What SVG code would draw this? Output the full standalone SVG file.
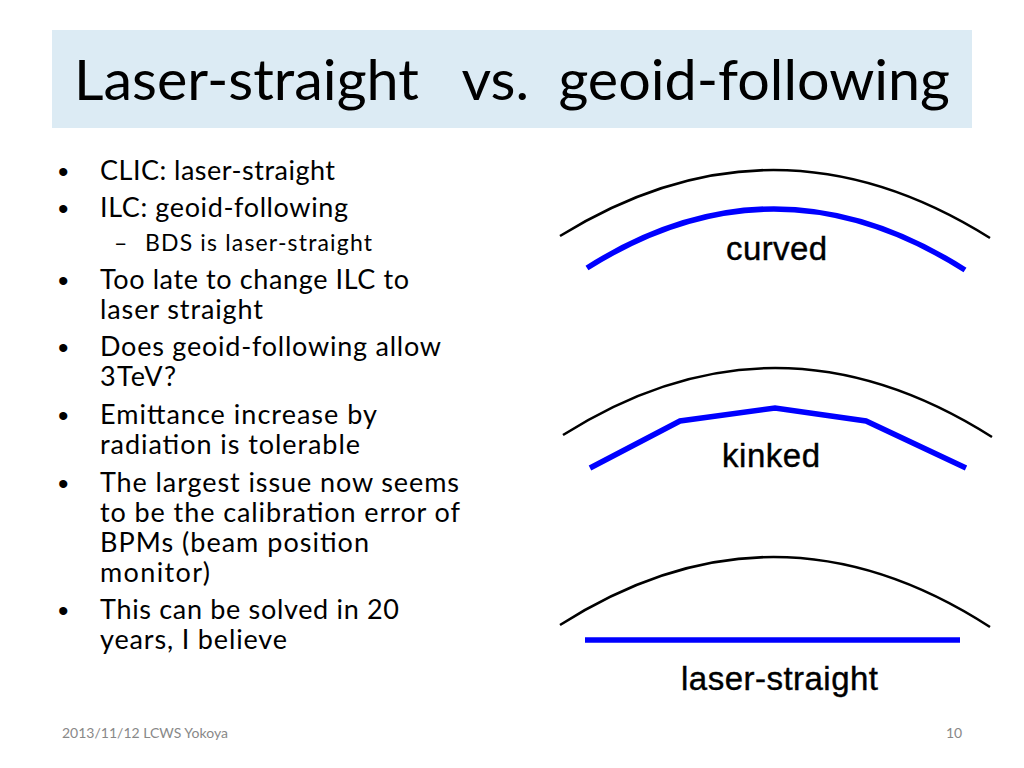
<svg xmlns="http://www.w3.org/2000/svg" width="1024" height="768" viewBox="0 0 1024 768">
<style>
.b{font-family:Lato,"Liberation Sans",sans-serif;font-size:27px;fill:#000}
.s{font-family:Lato,"Liberation Sans",sans-serif;font-size:23px;fill:#000}
.d{font-family:"Liberation Sans",sans-serif;font-size:30px;fill:#000}
.arc{fill:none;stroke:#000;stroke-width:2.5}
.blue{fill:none;stroke:#0000ff;stroke-width:5.5}
.lab{font-family:"Liberation Sans",Arial,sans-serif;font-size:33px;fill:#000;stroke:#000;stroke-width:0.4}
.f{font-family:Lato,"Liberation Sans",sans-serif;font-size:14px;fill:#888}
</style>
<rect width="1024" height="768" fill="#fff"/>
<rect x="52" y="30" width="920" height="98" fill="#dcebf4"/>
<text x="74" y="100" font-family="Lato, Liberation Sans, sans-serif" font-size="56" textLength="876" lengthAdjust="spacingAndGlyphs" xml:space="preserve">Laser-straight   vs.  geoid-following</text>
<g class="d">
<text x="58" y="182">•</text><text x="58" y="219">•</text><text x="58" y="291">•</text><text x="58" y="358">•</text><text x="58" y="426">•</text><text x="58" y="494">•</text><text x="58" y="621">•</text>
</g>
<g class="b">
<text x="100" y="180" textLength="235">CLIC: laser-straight</text>
<text x="100" y="217" textLength="248">ILC: geoid-following</text>
<text x="100" y="289" textLength="309">Too late to change ILC to</text>
<text x="100" y="319" textLength="163">laser straight</text>
<text x="100" y="356" textLength="341">Does geoid-following allow</text>
<text x="100" y="386" textLength="76">3TeV?</text>
<text x="100" y="424" textLength="277">Emittance increase by</text>
<text x="100" y="454" textLength="260">radiation is tolerable</text>
<text x="100" y="492" textLength="359">The largest issue now seems</text>
<text x="100" y="522" textLength="360">to be the calibration error of</text>
<text x="100" y="552" textLength="269">BPMs (beam position</text>
<text x="100" y="582" textLength="110">monitor)</text>
<text x="100" y="619" textLength="299">This can be solved in 20</text>
<text x="100" y="649" textLength="187">years, I believe</text>
</g>
<g class="s"><text x="114" y="251">–</text><text x="145" y="251" textLength="227">BDS is laser-straight</text></g>
<g id="curved">
<path class="arc" d="M560,236 Q775,103 990,238"/>
<path class="blue" d="M587,268 Q775,149 965,270"/>
<text class="lab" x="726" y="260" textLength="101">curved</text>
</g>
<g id="kinked">
<path class="arc" d="M563,435 Q776,300 992,437"/>
<polyline class="blue" points="590,468 680,421 775,408 866,421 966,468"/>
<text class="lab" x="722" y="467" textLength="98">kinked</text>
</g>
<g id="straight">
<path class="arc" d="M560,625 Q775,488 990,627"/>
<line class="blue" x1="585" y1="640" x2="960" y2="640"/>
<text class="lab" x="681" y="690" textLength="197">laser-straight</text>
</g>
<text class="f" x="62" y="738">2013/11/12 LCWS Yokoya</text>
<text class="f" x="946" y="738">10</text>
</svg>
